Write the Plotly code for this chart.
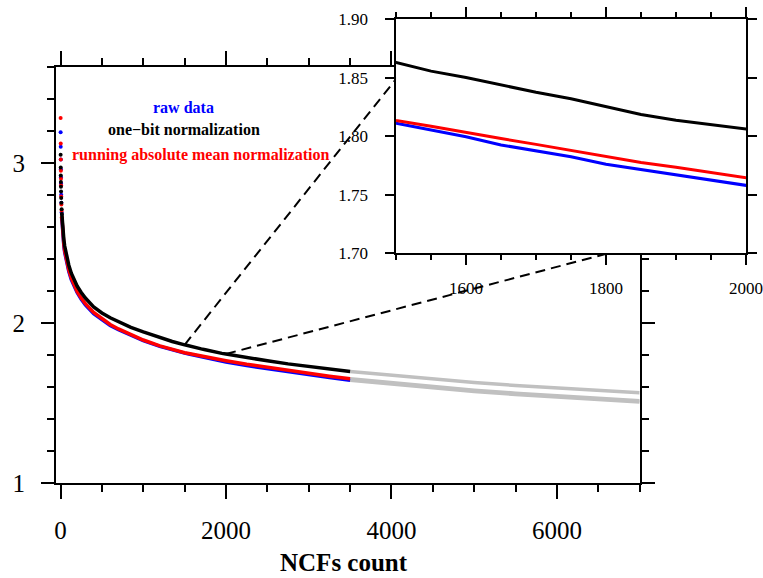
import plotly.graph_objects as go

# ---------------- data ----------------
x_ncf = [1, 2, 3, 4, 5, 6, 8, 10, 13, 16,
         20, 25, 30, 40, 50, 60, 80, 100, 130, 160,
         200, 250, 300, 400, 500, 600, 700, 850, 1000, 1200,
         1350, 1500, 1550, 1600, 1650, 1700, 1750, 1800, 1850, 1900,
         1950, 2000, 2250, 2500, 2750, 3000, 3250, 3500]

raw_data = [3.19, 3.10, 3.02, 2.96, 2.91, 2.87, 2.80, 2.75, 2.69, 2.65,
            2.60, 2.56, 2.53, 2.48, 2.44, 2.41, 2.36, 2.32, 2.27, 2.23,
            2.19, 2.148, 2.113, 2.058, 2.018, 1.984, 1.957, 1.92, 1.889, 1.853,
            1.83, 1.8111, 1.8053, 1.7995, 1.7925, 1.7875, 1.7825, 1.776, 1.771, 1.7665,
            1.761, 1.7561, 1.733, 1.713, 1.693, 1.675, 1.658, 1.641]

one_bit = [3.05, 2.97, 2.92, 2.88, 2.85, 2.82, 2.78, 2.75, 2.71, 2.68,
           2.64, 2.60, 2.57, 2.52, 2.48, 2.45, 2.40, 2.36, 2.31, 2.27,
           2.23, 2.19, 2.155, 2.10, 2.062, 2.032, 2.006, 1.972, 1.944, 1.907,
           1.884, 1.863, 1.8555, 1.850, 1.8435, 1.8375, 1.832, 1.8255, 1.8185, 1.8135,
           1.8095, 1.8054, 1.783, 1.763, 1.744, 1.727, 1.711, 1.696]

ram_norm = [3.28, 3.12, 3.02, 2.95, 2.90, 2.86, 2.79, 2.74, 2.70, 2.66,
            2.61, 2.57, 2.54, 2.49, 2.45, 2.42, 2.37, 2.33, 2.28, 2.24,
            2.197, 2.155, 2.12, 2.065, 2.025, 1.99, 1.962, 1.925, 1.893, 1.856,
            1.833, 1.8134, 1.8085, 1.803, 1.798, 1.793, 1.788, 1.7827, 1.7775, 1.7735,
            1.7685, 1.7641, 1.742, 1.722, 1.702, 1.684, 1.667, 1.651]

# gray extrapolated continuation
x_ext = [3500, 4000, 4500, 5000, 5500, 6000, 6500, 7000]
ext_one_bit = [1.696, 1.672, 1.648, 1.628, 1.609, 1.594, 1.579, 1.564]
ext_ram = [1.651, 1.626, 1.601, 1.580, 1.561, 1.544, 1.528, 1.514]
ext_raw = [1.641, 1.617, 1.593, 1.572, 1.553, 1.536, 1.520, 1.506]

n_head = 10  # first points drawn as separate dots

series = [
    ("raw data", raw_data, "#0000ff"),
    ("running absolute mean normalization", ram_norm, "#ff0000"),
    ("one\u2212bit normalization", one_bit, "#000000"),
]

FONT = "Liberation Serif"
fig = go.Figure()

# main panel: head dots
for name, ys, col in series:
    fig.add_trace(go.Scatter(x=x_ncf[:n_head], y=ys[:n_head], mode="markers",
                             marker=dict(color=col, size=4), xaxis="x", yaxis="y",
                             hoverinfo="skip"))
# gray continuation
for ys in (ext_raw, ext_ram, ext_one_bit):
    fig.add_trace(go.Scatter(x=x_ext, y=ys, mode="lines",
                             line=dict(color="#c0c0c0", width=3.5), xaxis="x", yaxis="y"))
# main panel lines
for name, ys, col in series:
    fig.add_trace(go.Scatter(x=x_ncf[n_head - 1:], y=ys[n_head - 1:], mode="lines",
                             line=dict(color=col, width=3.5), name=name, xaxis="x", yaxis="y"))
# inset lines
for name, ys, col in series:
    fig.add_trace(go.Scatter(x=x_ncf, y=ys, mode="lines",
                             line=dict(color=col, width=3), xaxis="x2", yaxis="y2"))

axis_common = dict(showgrid=False, zeroline=False, showline=True, linecolor="black",
                   mirror="allticks", ticks="outside", tickcolor="black", automargin=False,
                   ticklabeloverflow="allow")

fig.update_layout(
    width=763, height=578,
    margin=dict(l=56, r=17, t=19, b=95),
    paper_bgcolor="white", plot_bgcolor="white", showlegend=False,
    font=dict(family=FONT, color="black"),
    xaxis=dict(domain=[0, 0.8459], range=[-55, 7000], anchor="y",
               tickmode="linear", tick0=0, dtick=2000, ticklen=14, tickwidth=2, linewidth=2,
               tickfont=dict(size=25, family=FONT), ticklabelstandoff=10,
               minor=dict(tick0=0, dtick=500, ticks="outside", ticklen=7, tickwidth=2,
                          tickcolor="black", showgrid=False),
               **axis_common),
    yaxis=dict(domain=[0, 0.8972], range=[1, 3.6], anchor="x",
               tickmode="linear", tick0=1, dtick=1, ticklen=13, tickwidth=2, linewidth=2,
               tickfont=dict(size=25, family=FONT), ticklabelstandoff=11,
               minor=dict(tick0=1, dtick=0.2, ticks="outside", ticklen=7, tickwidth=2,
                          tickcolor="black", showgrid=False),
               **axis_common),
    xaxis2=dict(domain=[0.4928, 1.0], range=[1500, 2000], anchor="y2",
                tickmode="array", tickvals=[1600, 1800, 2000], ticklen=10, tickwidth=1.5,
                linewidth=1.5, tickfont=dict(size=17, family=FONT), ticklabelstandoff=9,
                minor=dict(tick0=1500, dtick=50, ticks="outside", ticklen=5, tickwidth=1.5,
                           tickcolor="black", showgrid=False),
                **axis_common),
    yaxis2=dict(domain=[0.495, 1.0], range=[1.70, 1.90], anchor="x2",
                tickmode="linear", tick0=1.70, dtick=0.05, tickformat=".2f",
                ticklen=9, tickwidth=1.5, linewidth=1.5,
                tickfont=dict(size=17, family=FONT), ticklabelstandoff=14,
                **axis_common),
)

# dashed connector lines (main-panel coordinates; the inset covers their far ends)
fig.add_shape(type="line", xref="x", yref="y", x0=1500, y0=1.863, x1=4127, y1=3.57,
              line=dict(color="black", width=2, dash="10px,6px"), layer="below")
fig.add_shape(type="line", xref="x", yref="y", x0=2000, y0=1.806, x1=6866, y1=2.468,
              line=dict(color="black", width=2, dash="10px,6px"), layer="below")

# in-plot legend labels
labels = [("raw data", "#0000ff", 0.1855, 0.8103),
          ("one\u2212bit normalization", "#000000", 0.1855, 0.7608),
          ("running absolute mean normalization", "#ff0000", 0.2101, 0.7069)]
for txt, col, xp, yp in labels:
    fig.add_annotation(text=txt, xref="paper", yref="paper", x=xp, y=yp,
                       xanchor="center", yanchor="middle", showarrow=False,
                       font=dict(family=FONT, size=16, color=col, weight="bold"))

# x-axis title
fig.add_annotation(text="NCFs count", xref="paper", yref="paper", x=0.4174, y=-0.172,
                   xanchor="center", yanchor="middle", showarrow=False,
                   font=dict(family=FONT, size=25, color="black", weight="bold"))

fig.write_html("out.html")
